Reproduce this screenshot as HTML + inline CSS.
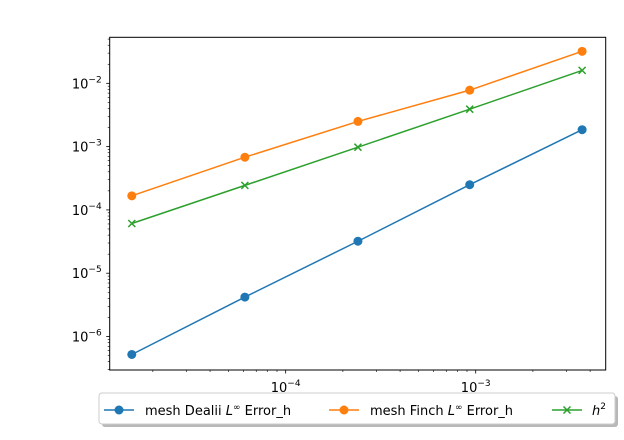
<!DOCTYPE html>
<html><head><meta charset="utf-8"><style>
body{margin:0;background:#fff;}
svg{font-family:"DejaVu Sans","Liberation Sans",sans-serif;}
</style></head><body>
<svg id="chart" width="624" height="435" viewBox="0 0 624 435">
<rect width="624" height="435" fill="#fff"/>
<g id="plot"></g>
<g id="axes"></g>
<g>
<rect x="102" y="396" width="516" height="31" rx="3" fill="#888" opacity="0.6"/>
<rect x="99" y="393" width="516" height="31" rx="3" fill="#fff" stroke="#ccc"/>
<g>
<line x1="104" y1="410" x2="134" y2="410" stroke="#1f77b4" stroke-width="1.5"/>
<circle cx="119" cy="410" r="4.5" fill="#1f77b4"/>
<text x="145" y="415" font-size="13">mesh Dealii <tspan font-style="italic">L</tspan><tspan font-size="9" dy="-5">∞</tspan><tspan dy="5"> Error_h</tspan></text>
</g>
<g>
<line x1="329" y1="410" x2="359" y2="410" stroke="#ff7f0e" stroke-width="1.5"/>
<circle cx="344" cy="410" r="4.5" fill="#ff7f0e"/>
<text x="370" y="415" font-size="13">mesh Finch <tspan font-style="italic">L</tspan><tspan font-size="9" dy="-5">∞</tspan><tspan dy="5"> Error_h</tspan></text>
</g>
<g>
<line x1="552" y1="410" x2="582" y2="410" stroke="#2ca02c" stroke-width="1.5"/>
<path d="M563.5 406.5 L570.5 413.5 M563.5 413.5 L570.5 406.5" stroke="#2ca02c" stroke-width="1.5"/>
<text x="592" y="415" font-size="13" font-style="italic">h<tspan font-size="9" dy="-6" font-style="normal">2</tspan></text>
</g>
</g>
</svg>
<script>
const xValues=[1.55e-5,6.1e-5,2.4e-4,9.3e-4,3.63e-3];
const dealii=[5.2e-7,4.2e-6,3.2e-5,2.5e-4,1.85e-3];
const finch=[1.67e-4,6.8e-4,2.5e-3,7.8e-3,3.2e-2];
const h2=[6.1e-5,2.44e-4,9.8e-4,3.9e-3,1.6e-2];
const xTickExps=[-4,-3];
const yTickExps=[-6,-5,-4,-3,-2];
const L=109.7,R=605.7,T=37.3,B=370;
const xmin=-4.926,xmax=-2.316,ymin=-6.529,ymax=-1.273;
const sx=v=>L+(Math.log10(v)-xmin)/(xmax-xmin)*(R-L);
const sy=v=>B-(Math.log10(v)-ymin)/(ymax-ymin)*(B-T);
const NS="http://www.w3.org/2000/svg";
const plot=document.getElementById('plot'),axes=document.getElementById('axes');
function mk(tag,attrs,parent){const e=document.createElementNS(NS,tag);for(const k in attrs)e.setAttribute(k,attrs[k]);parent.appendChild(e);return e;}
function series(vals,color,marker,name){
  const g=mk('g',{},plot);
  
  
  const pts=xValues.map((x,i)=>sx(x)+','+sy(vals[i])).join(' ');
  const pl=mk('polyline',{points:pts,fill:'none',stroke:color,'stroke-width':1.5},g);
  
  
  xValues.forEach((x,i)=>{
    const cx=sx(x),cy=sy(vals[i]);let m;
    if(marker==='o'){m=mk('circle',{cx:cx,cy:cy,r:4.5,fill:color},g);}
    else{m=mk('path',{d:`M${cx-3.5} ${cy-3.5}L${cx+3.5} ${cy+3.5}M${cx-3.5} ${cy+3.5}L${cx+3.5} ${cy-3.5}`,stroke:color,'stroke-width':1.5},g);}
    
    
  });
}
series(dealii,'#1f77b4','o','dealii-series');
series(finch,'#ff7f0e','o','finch-series');
series(h2,'#2ca02c','x','h2-series');
const frame=mk('rect',{x:L,y:T,width:R-L,height:B-T,fill:'none',stroke:'#000','stroke-width':1},axes);


for(let e=-6;e<=-2;e++)for(let m=1;m<10;m++){
  const v=m*Math.pow(10,e),lx=Math.log10(v);
  if(lx>xmin&&lx<xmax){mk('line',{x1:sx(v),x2:sx(v),y1:B,y2:B+(m===1?3.5:2),stroke:'#000','stroke-width':m===1?0.8:0.6},axes);}
}
for(let e=-7;e<=-1;e++)for(let m=1;m<10;m++){
  const v=m*Math.pow(10,e),ly=Math.log10(v);
  if(ly>ymin&&ly<ymax){mk('line',{x1:L,x2:L-(m===1?3.5:2),y1:sy(v),y2:sy(v),stroke:'#000','stroke-width':m===1?0.8:0.6},axes);}
}
xTickExps.forEach(e=>{
  const t=mk('text',{x:sx(Math.pow(10,e)),y:B+22,'font-size':13,'text-anchor':'middle'},axes);
  
  
  t.innerHTML='10<tspan font-size="9" dy="-6">−'+(-e)+'</tspan>';
});
yTickExps.forEach(e=>{
  const t=mk('text',{x:L-8,y:sy(Math.pow(10,e))+5,'font-size':13,'text-anchor':'end'},axes);
  
  
  t.innerHTML='10<tspan font-size="9" dy="-6">−'+(-e)+'</tspan>';
});
</script>
</body></html>
